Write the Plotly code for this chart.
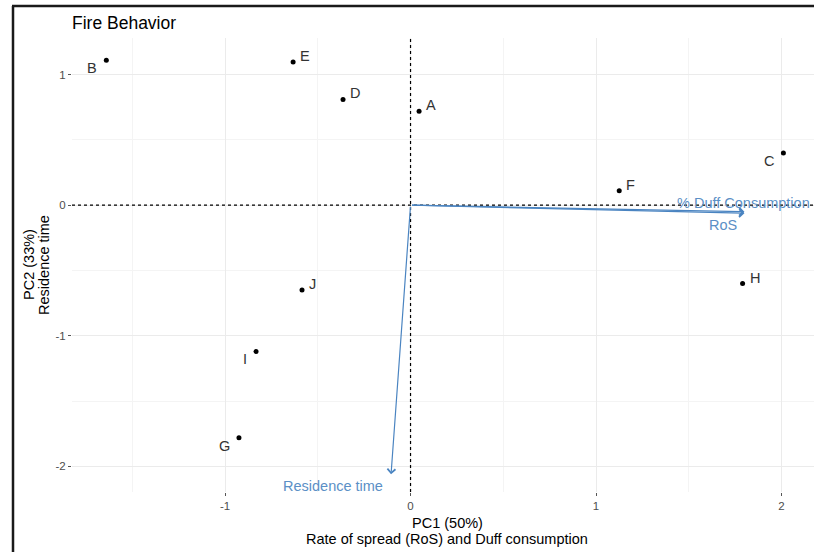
import plotly.graph_objects as go

# ---- data ----
site_labels = ["A", "B", "C", "D", "E", "F", "G", "H", "I", "J"]
pc1_scores = [0.046, -1.64, 2.01, -0.364, -0.633, 1.125, -0.925, 1.79, -0.833, -0.585]
pc2_scores = [0.72, 1.11, 0.40, 0.81, 1.096, 0.11, -1.78, -0.60, -1.12, -0.65]
label_side = ["right", "left", "left", "right", "right",
              "right", "left", "right", "left", "right"]

loading_names = ["% Duff Consumption", "RoS", "Residence time"]
loading_pc1 = [1.80, 1.80, -0.105]
loading_pc2 = [-0.05, -0.062, -2.06]

x_tick_vals = [-1, 0, 1, 2]
x_tick_text = ["-1", "0", "1", "2"]
y_tick_vals = [-2, -1, 0, 1]
y_tick_text = ["-2", "-1", "0", "1"]

x_title_lines = ["PC1 (50%)", "Rate of spread (RoS) and Duff consumption"]
y_title_lines = ["PC2 (33%)", "Residence time"]

# ---- layout geometry ----
W, H = 814, 552
ML, MR, MT, MB = 72, 0, 38, 60
X_RANGE = [-1.825, 2.175]
Y_RANGE = [-2.196, 1.28]

FONT = "Liberation Sans, Arial, sans-serif"
ARROW_COL = "#4a84c1"
TEXT_COL = "#5b8fc6"

pw, ph = W - ML - MR, H - MT - MB
def px_x(p):
    return (p - ML) / pw
def px_y(p):
    return (H - MB - p) / ph

fig = go.Figure()

fig.add_trace(go.Scatter(
    x=pc1_scores, y=pc2_scores, mode="markers",
    marker=dict(color="black", size=5),
    hoverinfo="skip", showlegend=False, cliponaxis=False,
))

# point labels (offset styling depends on side)
side_style = {"right": dict(xanchor="left", xshift=5, yshift=6),
              "left": dict(xanchor="right", xshift=-7, yshift=-8)}
for lab, px, py, side in zip(site_labels, pc1_scores, pc2_scores, label_side):
    fig.add_annotation(x=px, y=py, xref="x", yref="y", text=lab, showarrow=False,
                       yanchor="middle", font=dict(family=FONT, size=14.5, color="#333333"),
                       **side_style[side])

# loading arrows
for nm, lx, ly in zip(loading_names, loading_pc1, loading_pc2):
    fig.add_annotation(
        x=lx, y=ly, ax=0, ay=0, xref="x", yref="y", axref="x", ayref="y",
        showarrow=True, arrowhead=4, arrowsize=1.3, arrowwidth=1.2,
        arrowcolor=ARROW_COL, text="",
    )

label_shift = {"% Duff Consumption": (-1, 9), "RoS": (-21, -12), "Residence time": (-58, -12)}
for nm, lx, ly in zip(loading_names, loading_pc1, loading_pc2):
    dx, dy = label_shift[nm]
    fig.add_annotation(
        x=lx, y=ly, xref="x", yref="y", showarrow=False, text=nm,
        xshift=dx, yshift=dy,
        font=dict(family=FONT, size=14.5, color=TEXT_COL),
    )

# axis titles (tight line spacing like the reference)
for line, ypix in zip(x_title_lines, [523, 539]):
    fig.add_annotation(x=px_x(447), y=px_y(ypix), xref="paper", yref="paper",
                       text=line, showarrow=False, xanchor="center", yanchor="middle",
                       font=dict(family=FONT, size=14.5, color="black"))
for line, xpix in zip(y_title_lines, [29, 44]):
    fig.add_annotation(x=px_x(xpix), y=px_y(265), xref="paper", yref="paper",
                       text=line, showarrow=False, textangle=-90,
                       xanchor="center", yanchor="middle",
                       font=dict(family=FONT, size=14.5, color="black"))

# dashed reference lines
fig.add_shape(type="line", xref="x", yref="paper", x0=0, x1=0, y0=0, y1=1,
              line=dict(color="black", width=1.2, dash="3px,3px"), layer="above")
fig.add_shape(type="line", xref="paper", yref="y", x0=0, x1=1, y0=0, y1=0,
              line=dict(color="black", width=1.2, dash="3px,3px"), layer="above")

# image frame (top and left border)
fig.add_shape(type="line", xref="paper", yref="paper",
              x0=px_x(12), x1=px_x(814), y0=px_y(6), y1=px_y(6),
              line=dict(color="#1a1a1a", width=2.5))
fig.add_shape(type="line", xref="paper", yref="paper",
              x0=px_x(13), x1=px_x(13), y0=px_y(6), y1=px_y(552),
              line=dict(color="#1a1a1a", width=2.5))

axis_common = dict(
    showline=False, zeroline=False,
    gridcolor="#ebebeb", gridwidth=1,
    ticks="outside", ticklen=3, tickcolor="#555555", tickwidth=1,
    tickfont=dict(family=FONT, size=11.5, color="#4d4d4d"),
    minor=dict(dtick=0.5, showgrid=True, gridcolor="#f4f4f4", gridwidth=1, ticks=""),
)

fig.update_layout(
    width=W, height=H,
    margin=dict(l=ML, r=MR, t=MT, b=MB),
    paper_bgcolor="white", plot_bgcolor="white",
    font=dict(family=FONT),
    title=dict(text="Fire Behavior", x=72 / W, xanchor="left",
               y=1 - 23 / H, yanchor="middle",
               font=dict(family=FONT, size=17.5, color="black")),
    xaxis=dict(range=X_RANGE, tickvals=x_tick_vals, ticktext=x_tick_text, **axis_common),
    yaxis=dict(range=Y_RANGE, tickvals=y_tick_vals, ticktext=y_tick_text, **axis_common),
)

fig.write_html("out.html", config={"displayModeBar": False},
               post_script="document.body.style.margin='0';document.body.style.overflow='hidden';")
